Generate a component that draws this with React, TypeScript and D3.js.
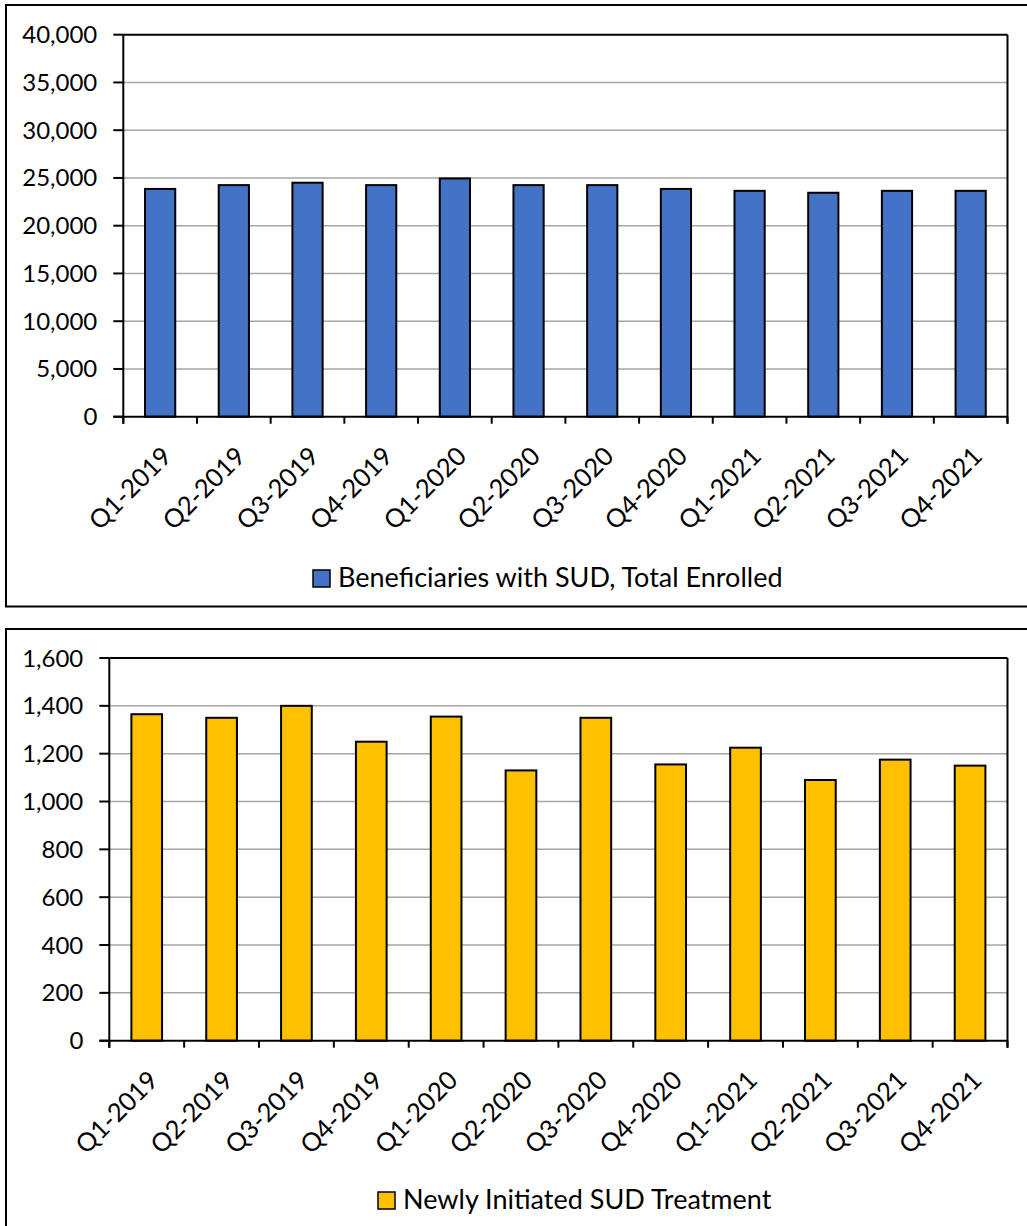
import React from "react";
import * as d3 from "d3";

const quarters = [
  "Q1-2019", "Q2-2019", "Q3-2019", "Q4-2019",
  "Q1-2020", "Q2-2020", "Q3-2020", "Q4-2020",
  "Q1-2021", "Q2-2021", "Q3-2021", "Q4-2021",
];
const enrolledValues = [23850, 24250, 24500, 24250, 24950, 24250, 24250, 23850, 23650, 23450, 23650, 23650];
const initiatedValues = [1365, 1350, 1400, 1250, 1355, 1130, 1350, 1155, 1225, 1090, 1175, 1150];
const enrolledTicks = [0, 5000, 10000, 15000, 20000, 25000, 30000, 35000, 40000];
const initiatedTicks = [0, 200, 400, 600, 800, 1000, 1200, 1400, 1600];
const enrolledLegend = "Beneficiaries with SUD, Total Enrolled";
const initiatedLegend = "Newly Initiated SUD Treatment";

const FONT = "Lato, 'Open Sans', sans-serif";
const fmt = d3.format(",");

type ChartProps = {
  values: number[];
  ticks: number[];
  color: string;
  legend: string;
  box: { x: number; y: number; w: number; h: number };
  plot: { left: number; top: number; right: number; bottom: number };
  legendX: number;
  legendY: number;
};

function Chart({ values, ticks, color, legend, box, plot, legendX, legendY }: ChartProps) {
  const x = d3
    .scaleBand<string>()
    .domain(quarters)
    .range([plot.left, plot.right])
    .paddingInner(0.59)
    .paddingOuter(0.295);
  const y = d3
    .scaleLinear()
    .domain([ticks[0], ticks[ticks.length - 1]])
    .range([plot.bottom, plot.top]);
  const step = x.step();
  const boundaries = d3.range(quarters.length + 1).map((i) => plot.left + i * step);

  return (
    <g>
      <rect x={box.x} y={box.y} width={box.w} height={box.h} fill="#fff" stroke="#000" strokeWidth={2} />
      {ticks.slice(1, -1).map((t) => (
        <line key={"g" + t} x1={plot.left} x2={plot.right} y1={y(t)} y2={y(t)} stroke="#A6A6A6" strokeWidth={1.5} />
      ))}
      {values.map((v, i) => (
        <rect
          key={"b" + i}
          x={x(quarters[i])}
          y={y(v)}
          width={x.bandwidth()}
          height={y(0) - y(v)}
          fill={color}
          stroke="#000"
          strokeWidth={2}
        />
      ))}
      <line x1={plot.left} x2={plot.right} y1={plot.top} y2={plot.top} stroke="#000" strokeWidth={2} />
      <line x1={plot.right} x2={plot.right} y1={plot.top} y2={plot.bottom + 7} stroke="#000" strokeWidth={2} />
      <line x1={plot.left} x2={plot.left} y1={plot.top} y2={plot.bottom + 7} stroke="#000" strokeWidth={2} />
      {ticks.map((t) => (
        <g key={"t" + t}>
          <line x1={plot.left - 10} x2={plot.left} y1={y(t)} y2={y(t)} stroke="#000" strokeWidth={2} />
          <text
            x={plot.left - 26}
            y={y(t) + 8.5}
            textAnchor="end"
            fontFamily={FONT}
            fontSize={24}
            fill="#000"
          >
            {fmt(t)}
          </text>
        </g>
      ))}
      <line x1={plot.left - 10} x2={plot.right} y1={plot.bottom} y2={plot.bottom} stroke="#000" strokeWidth={2} />
      {boundaries.map((bx, i) => (
        <line key={"xt" + i} x1={bx} x2={bx} y1={plot.bottom} y2={plot.bottom + 7} stroke="#000" strokeWidth={2} />
      ))}
      {quarters.map((q) => {
        const cx = (x(q) as number) + x.bandwidth() / 2;
        return (
          <text
            key={"xl" + q}
            transform={`translate(${cx + 6},${plot.bottom + 34}) rotate(-45)`}
            textAnchor="end"
            dominantBaseline="central"
            fontFamily={FONT}
            fontSize={25.5}
            fill="#000"
          >
            {q}
          </text>
        );
      })}
      <rect x={legendX} y={legendY - 17} width={17} height={17} fill={color} stroke="#000" strokeWidth={1.5} />
      <text x={legendX + 25} y={legendY} fontFamily={FONT} fontSize={27} fill="#000">
        {legend}
      </text>
    </g>
  );
}

export default function App() {
  return (
    <svg
      width={1027}
      height={1226}
      style={{ position: "absolute", left: 0, top: 0, background: "#fff" }}
    >
      <rect x={0} y={0} width={1027} height={1226} fill="#fff" />
      <Chart
        values={enrolledValues}
        ticks={enrolledTicks}
        color="#4472C4"
        legend={enrolledLegend}
        box={{ x: 6, y: 5, w: 1100, h: 601.5 }}
        plot={{ left: 123.3, top: 34.7, right: 1007.5, bottom: 416.7 }}
        legendX={313}
        legendY={587}
      />
      <Chart
        values={initiatedValues}
        ticks={initiatedTicks}
        color="#FFC000"
        legend={initiatedLegend}
        box={{ x: 6, y: 629, w: 1100, h: 700 }}
        plot={{ left: 109.3, top: 658, right: 1007.5, bottom: 1040.7 }}
        legendX={378}
        legendY={1209}
      />
    </svg>
  );
}
